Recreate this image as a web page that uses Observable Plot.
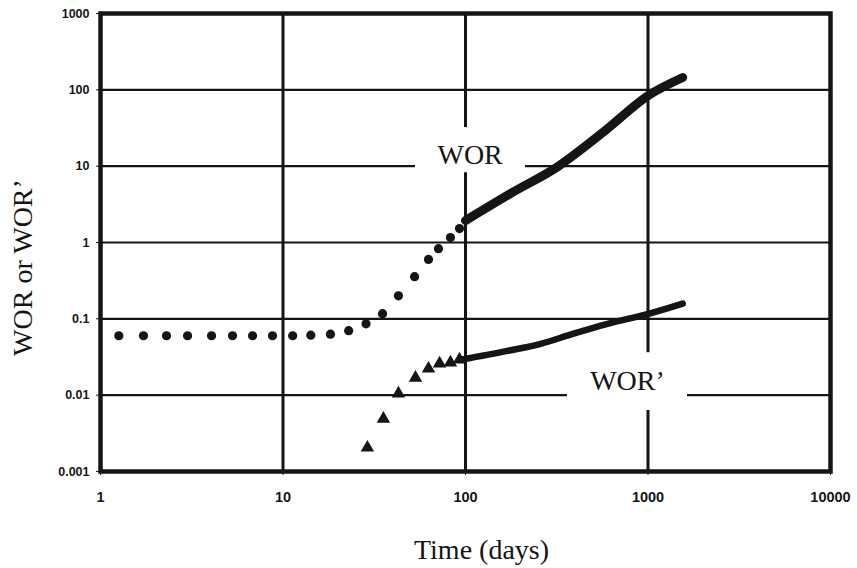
<!DOCTYPE html>
<html>
<head>
<meta charset="utf-8">
<script src="https://cdn.jsdelivr.net/npm/d3@7"></script>
<script src="https://cdn.jsdelivr.net/npm/@observablehq/plot@0.6"></script>
<style>
  html, body { margin: 0; padding: 0; background: #fff; }
  #chart svg { display: block; }
</style>
</head>
<body>
<div id="chart"></div>
<script>
// Axis ticks
const xTicks = [1, 10, 100, 1000, 10000];
const xTickLabels = ["1", "10", "100", "1000", "10000"];
const yTicks = [0.001, 0.01, 0.1, 1, 10, 100, 1000];
const yTickLabels = ["0.001", "0.01", "0.1", "1", "10", "100", "1000"];

// WOR: discrete points (circles)
const worTime = [1.26, 1.72, 2.3, 3.0, 4.06, 5.29, 6.81, 8.76, 11.3, 14.2, 18.2, 22.9, 28.5, 35.1, 42.9, 52.6, 62.7, 71.1, 82.7, 92.7];
const worValue = [0.060, 0.060, 0.060, 0.060, 0.060, 0.060, 0.060, 0.060, 0.060, 0.061, 0.063, 0.070, 0.086, 0.117, 0.20, 0.357, 0.60, 0.83, 1.16, 1.52];
// WOR: dense late-time points (drawn as a thick trace)
const worTrendTime = [100, 177, 323, 570, 1018, 1550];
const worTrendValue = [1.94, 4.4, 10, 28, 86, 145];

// WOR': discrete points (triangles)
const worpTime = [29.0, 35.5, 42.9, 53.2, 62.7, 72.1, 82.7, 92.7];
const worpValue = [0.00205, 0.0049, 0.0105, 0.0169, 0.0222, 0.0259, 0.0267, 0.0292];
// WOR': dense late-time points
const worpTrendTime = [95, 170, 258, 391, 600, 1018, 1550];
const worpTrendValue = [0.0292, 0.038, 0.047, 0.064, 0.086, 0.117, 0.158];

// Annotation labels (anchors in data space) and their white boxes
const labelText = ["WOR", "WOR’"];
const labelTime = [106, 772];
const labelValue = [13.8, 0.0155];
const boxTime1 = [53.2, 362];
const boxTime2 = [213, 1646];
const boxValue1 = [8.2, 0.0063];
const boxValue2 = [32, 0.036];

// Axis titles (y title anchored at a value along the y axis)
const yTitle = "WOR or WOR’";
const yTitleAt = 0.47;
const xTitle = "Time (days)";

const worPts = worTime.map((t, i) => ({t, v: worValue[i]}));
const worTrend = worTrendTime.map((t, i) => ({t, v: worTrendValue[i]}));
const worpPts = worpTime.map((t, i) => ({t, v: worpValue[i]}));
const worpTrend = worpTrendTime.map((t, i) => ({t, v: worpTrendValue[i]}));
const labels = labelText.map((s, i) => ({s, t: labelTime[i], v: labelValue[i],
  t1: boxTime1[i], t2: boxTime2[i], v1: boxValue1[i], v2: boxValue2[i]}));

const xLabelOf = new Map(xTicks.map((d, i) => [d, xTickLabels[i]]));
const yLabelOf = new Map(yTicks.map((d, i) => [d, yTickLabels[i]]));

const ink = "#151515";
const sans = "Liberation Sans, Arial, sans-serif";
const serif = "Liberation Serif, Times New Roman, serif";

const chart = Plot.plot({
  width: 857,
  height: 568,
  marginLeft: 100,
  marginRight: 27,
  marginTop: 13,
  marginBottom: 97,
  style: {background: "#fff", color: ink},
  x: {type: "log", domain: [1, 10000]},
  y: {type: "log", domain: [0.001, 1000]},
  marks: [
    Plot.ruleX(xTicks, {stroke: ink, strokeWidth: 3}),
    Plot.ruleY(yTicks, {stroke: ink, strokeWidth: 2.2}),
    Plot.frame({stroke: ink, strokeWidth: 4.5}),
    Plot.rect(labels, {x1: "t1", x2: "t2", y1: "v1", y2: "v2", fill: "#fff"}),
    Plot.line(worTrend, {x: "t", y: "v", stroke: ink, strokeWidth: 9, strokeLinecap: "round", strokeLinejoin: "round", curve: "monotone-x"}),
    Plot.dot(worPts, {x: "t", y: "v", r: 4.6, fill: ink, stroke: "none"}),
    Plot.line(worpTrend, {x: "t", y: "v", stroke: ink, strokeWidth: 6.5, strokeLinecap: "round", strokeLinejoin: "round", curve: "monotone-x"}),
    Plot.dot(worpPts, {x: "t", y: "v", symbol: "triangle", r: 5, fill: ink, stroke: "none"}),
    Plot.text(labels, {x: "t", y: "v", text: "s", fontFamily: serif, fontSize: 28, fill: ink}),
    Plot.axisX(xTicks, {anchor: "bottom", tickSize: 4, tickPadding: 16, tickFormat: d => xLabelOf.get(d), label: null,
      fontFamily: sans, fontWeight: "bold", fontSize: 14.5}),
    Plot.axisY(yTicks, {anchor: "left", tickSize: 4, tickPadding: 7, tickFormat: d => yLabelOf.get(d), label: null,
      fontFamily: sans, fontWeight: "bold", fontSize: 12.5}),
    Plot.text([{s: yTitle, v: yTitleAt}], {y: "v", text: "s", frameAnchor: "left", textAnchor: "middle", lineAnchor: "middle",
      rotate: -90, dx: -77, fontFamily: serif, fontSize: 28, fill: ink}),
    Plot.text([xTitle], {text: d => d, frameAnchor: "bottom", textAnchor: "middle", lineAnchor: "middle",
      dx: 16, dy: 79, fontFamily: serif, fontSize: 28, fill: ink})
  ]
});
document.getElementById("chart").appendChild(chart);
</script>
</body>
</html>
